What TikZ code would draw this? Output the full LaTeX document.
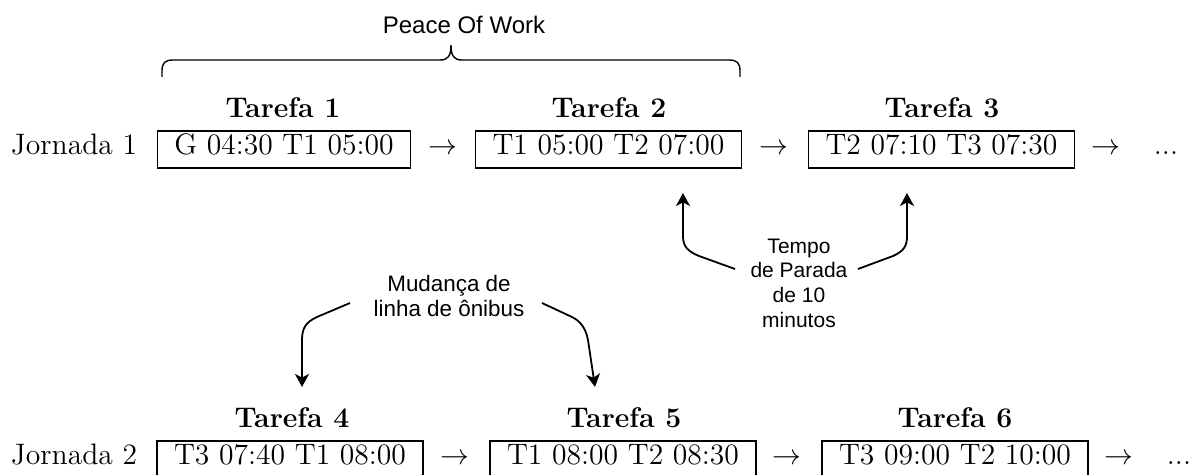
\documentclass[tikz,border=0pt]{standalone}
\usepackage{fontspec}
\newfontfamily\sansf{Liberation Sans}
\usetikzlibrary{arrows.meta}
\begin{document}
\begin{tikzpicture}[x=0.5pt,y=-0.5pt,
  txt/.style={font=\fontsize{14.8}{17}\selectfont, anchor=base, inner sep=0pt},
  task/.style={draw, line width=0.7pt, font=\fontsize{14.8}{17}\selectfont, inner xsep=8.55pt, inner ysep=0pt, text height=12pt, text depth=6.5pt, anchor=base},
  title/.style={font=\fontsize{14.2}{17}\selectfont\bfseries, anchor=base, inner sep=0pt},
  ann/.style={font=\sansf, align=center, inner sep=0pt},
  curvearrow/.style={line width=0.9pt, -{Stealth[length=6.5pt,width=7pt,inset=1.8pt]}},
]
\useasboundingbox (0,0) rectangle (1200,475);

% peace of work
\node[ann, font=\sansf\fontsize{12}{14}\selectfont, anchor=base] (pow) at (464,34) {Peace Of Work};
\coordinate (brL) at (162,77);
\coordinate (brR) at (740,77);
\draw[line width=0.7pt] (brL) -- (162,71) .. controls (162,63) and (165,60) .. (173,60) -- (440,60)
  .. controls (448,60) and (451,56) .. (451,45) .. controls (451,56) and (454,60) .. (462,60)
  -- (729,60) .. controls (737,60) and (740,63) .. (740,71) -- (brR);

% row 1
\node[title] (h1) at (283,118) {Tarefa 1};
\node[title] (h2) at (609,118) {Tarefa 2};
\node[title] (h3) at (942,118) {Tarefa 3};
\node[txt] (j1) at (74,155) {Jornada 1};
\node[task] (b1) at (284,155) {G 04:30 T1 05:00};
\node[txt] (a1) at (443,155) {$\rightarrow$};
\node[task] (b2) at (608.5,155) {T1 05:00 T2 07:00};
\node[txt] (a2) at (774,155) {$\rightarrow$};
\node[task] (b3) at (941.5,155) {T2 07:10 T3 07:30};
\node[txt] (a3) at (1106,155) {$\rightarrow$};
\node[txt] (d1) at (1166,155) {...};

% row 2
\node[title] (h4) at (292,428) {Tarefa 4};
\node[title] (h5) at (624,428) {Tarefa 5};
\node[title] (h6) at (955,428) {Tarefa 6};
\node[txt] (j2) at (74,465) {Jornada 2};
\node[task] (b4) at (290,465) {T3 07:40 T1 08:00};
\node[txt] (a4) at (455,465) {$\rightarrow$};
\node[task] (b5) at (623,465) {T1 08:00 T2 08:30};
\node[txt] (a5) at (787,465) {$\rightarrow$};
\node[task] (b6) at (955,465) {T3 09:00 T2 10:00};
\node[txt] (a6) at (1119,465) {$\rightarrow$};
\node[txt] (d2) at (1179,465) {...};

% tempo de parada
\node[ann, font=\sansf\fontsize{10.5}{12.3}\selectfont] (tempo) at (799,283) {Tempo\\de Parada\\de 10\\minutos};
\coordinate (ts1) at (735,269);
\coordinate (ts2) at (858,269);
\coordinate (tt1) at (683,193);
\coordinate (tt2) at (907,193);
\draw[curvearrow] (ts1) -- (699,256) .. controls (687,251) and (683,246) .. (683,236) -- (tt1);
\draw[curvearrow] (ts2) -- (893,256) .. controls (904,251) and (907,246) .. (907,236) -- (tt2);

% mudanca
\node[ann, font=\sansf\fontsize{11.2}{12.6}\selectfont] (mud) at (449,296) {Mudança de\\linha de ônibus};
\coordinate (ms1) at (350,303);
\coordinate (ms2) at (542,303);
\coordinate (mt1) at (302,387);
\coordinate (mt2) at (595,387);
\draw[curvearrow] (ms1) -- (317,317) .. controls (306,322) and (302,328) .. (302,340) -- (mt1);
\draw[curvearrow] (ms2) -- (572,317) .. controls (582,322) and (586,330) .. (588,340) -- (mt2);
\end{tikzpicture}
\end{document}
